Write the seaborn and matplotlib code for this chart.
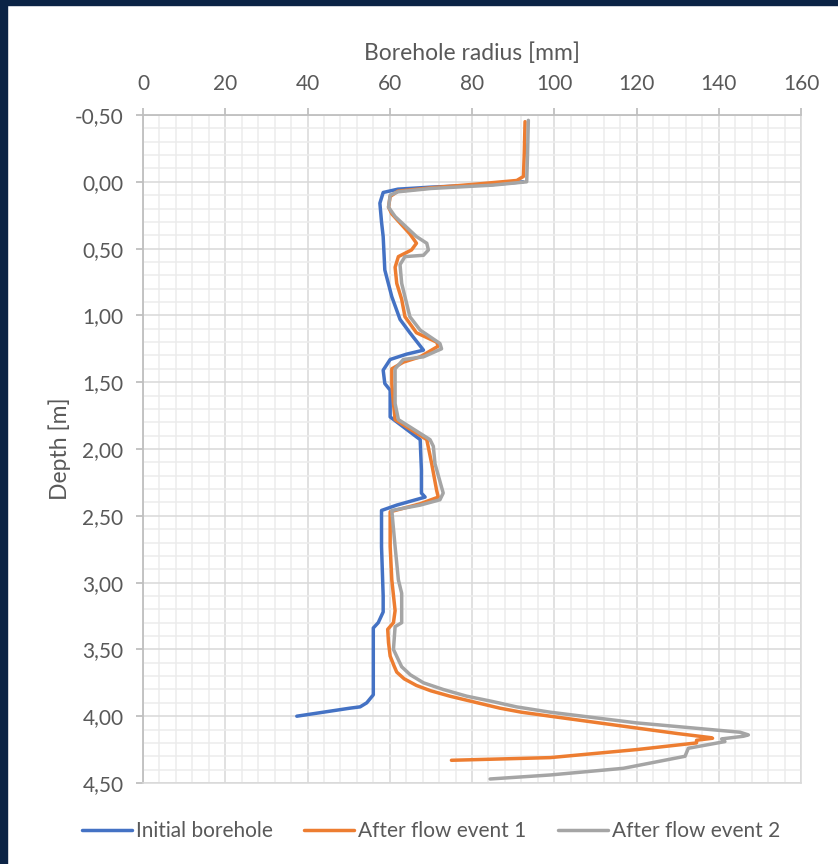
"""Borehole radius profiles before and after flow events."""
import matplotlib.pyplot as plt
import matplotlib.patches as mpatches
from matplotlib.ticker import MultipleLocator, FuncFormatter
import pandas as pd
import seaborn as sns

# radius [mm] and depth [m]
initial_r = [92.4, 85.0, 70.0, 62.0, 58.4, 57.6, 58.0, 58.4, 58.8, 60.5, 62.5, 64.9, 68.2, 64.1,
             60.1, 58.4, 58.8, 60.1, 60.1, 67.4, 67.7, 67.7, 68.6, 61.7, 58.0, 58.0, 58.4, 58.4,
             57.2, 56.0, 56.0, 54.4, 52.8, 50.3, 37.4]
initial_d = [0.00, 0.02, 0.04, 0.055, 0.08, 0.16, 0.30, 0.41, 0.66, 0.86, 1.03, 1.13, 1.26, 1.29,
             1.33, 1.41, 1.51, 1.56, 1.76, 1.93, 2.16, 2.33, 2.36, 2.42, 2.46, 2.73, 3.10, 3.22,
             3.30, 3.34, 3.84, 3.90, 3.93, 3.94, 4.00]

event1_r = [92.9, 92.7, 92.5, 90.9, 80.0, 70.0, 62.0, 60.1, 59.7, 60.5, 64.9, 66.5, 65.3, 62.1,
            61.3, 61.7, 62.9, 63.7, 66.5, 71.4, 71.8, 67.4, 63.3, 60.5, 60.5, 60.9, 61.3, 69.0,
            70.2, 71.4, 71.8, 67.4, 60.1, 60.1, 60.5, 61.3, 60.9, 59.5, 59.7, 60.1, 61.0, 61.7,
            63.5, 66.5, 70.0, 74.6, 80.0, 86.8, 92.0, 99.0, 118.0, 130.0, 137.9, 138.5, 134.6,
            134.6, 120.0, 99.0, 75.0]
event1_d = [-0.45, -0.20, -0.04, -0.01, 0.02, 0.045, 0.07, 0.11, 0.19, 0.24, 0.39, 0.46, 0.51, 0.56,
            0.64, 0.76, 0.88, 1.01, 1.13, 1.20, 1.23, 1.31, 1.35, 1.40, 1.51, 1.66, 1.78, 1.93,
            2.11, 2.31, 2.36, 2.41, 2.47, 2.73, 2.98, 3.21, 3.30, 3.35, 3.45, 3.55, 3.62, 3.67,
            3.72, 3.77, 3.81, 3.85, 3.89, 3.94, 3.97, 4.00, 4.08, 4.13, 4.16, 4.165, 4.18,
            4.20, 4.25, 4.31, 4.33]

event2_r = [93.7, 93.5, 93.3, 85.0, 70.0, 62.0, 60.1, 59.7, 61.3, 66.5, 69.0, 69.4, 68.2, 63.7,
            62.5, 62.9, 64.1, 64.9, 67.4, 72.2, 72.6, 68.2, 63.3, 61.3, 61.3, 62.1, 69.8, 70.6,
            71.0, 73.0, 72.2, 67.4, 60.5, 61.3, 62.1, 62.9, 62.9, 61.3, 60.9, 62.9, 65.0, 68.2,
            73.0, 78.7, 85.0, 90.8, 99.0, 120.0, 145.2, 147.2, 146.0, 140.7, 141.5, 132.6, 131.8,
            116.8, 99.0, 84.4]
event2_d = [-0.46, -0.20, 0.00, 0.025, 0.05, 0.075, 0.10, 0.19, 0.26, 0.41, 0.46, 0.51, 0.55, 0.56,
            0.62, 0.76, 0.91, 1.01, 1.11, 1.21, 1.25, 1.31, 1.33, 1.40, 1.66, 1.78, 1.93, 1.98,
            2.11, 2.33, 2.38, 2.42, 2.46, 2.73, 2.98, 3.08, 3.30, 3.33, 3.50, 3.63, 3.69, 3.75,
            3.80, 3.85, 3.89, 3.93, 3.97, 4.05, 4.12, 4.14, 4.15, 4.17, 4.19, 4.24, 4.30,
            4.39, 4.44, 4.47]

series = ['Initial borehole', 'After flow event 1', 'After flow event 2']
colors = ['#4472C4', '#ED7D31', '#A5A5A5']

df = pd.concat([
    pd.DataFrame({'radius': initial_r, 'depth': initial_d, 'series': series[0]}),
    pd.DataFrame({'radius': event1_r, 'depth': event1_d, 'series': series[1]}),
    pd.DataFrame({'radius': event2_r, 'depth': event2_d, 'series': series[2]}),
])

sns.set_style('white')
plt.rcParams['font.family'] = ['Lato', 'DejaVu Sans']
text_col = '#595959'

fig = plt.figure(figsize=(8.38, 8.64), dpi=100)
ax = fig.add_axes([143 / 838, 1 - 783 / 864, 658 / 838, 668 / 864])

# navy frame on top and left edge
fig.patches.append(mpatches.Rectangle((0, 1 - 5 / 864), 1, 5 / 864, transform=fig.transFigure,
                                      color='#0b2345', zorder=0))
fig.patches.append(mpatches.Rectangle((0, 0), 7 / 838, 1, transform=fig.transFigure,
                                      color='#0b2345', zorder=0))

sns.lineplot(data=df, x='radius', y='depth', hue='series', palette=colors, sort=False,
             estimator=None, linewidth=2.5, ax=ax, legend=True)

ax.set_xlim(0, 160)
ax.set_ylim(4.5, -0.5)
ax.xaxis.tick_top()
ax.xaxis.set_label_position('top')
ax.xaxis.set_major_locator(MultipleLocator(20))
ax.xaxis.set_minor_locator(MultipleLocator(4))
ax.yaxis.set_major_locator(MultipleLocator(0.5))
ax.yaxis.set_minor_locator(MultipleLocator(0.1))
ax.yaxis.set_major_formatter(FuncFormatter(lambda v, p: f'{v:.2f}'.replace('.', ',')))

ax.grid(which='major', color='#d9d9d9', linewidth=1.1)
ax.grid(which='minor', color='#ececec', linewidth=1.1)
ax.set_axisbelow(True)

for side in ['top', 'left']:
    ax.spines[side].set_color('#bfbfbf')
    ax.spines[side].set_linewidth(1.3)
for side in ['right', 'bottom']:
    ax.spines[side].set_color('#d9d9d9')
    ax.spines[side].set_linewidth(1.1)

ax.tick_params(axis='x', which='major', top=True, bottom=False, direction='out', length=5,
               width=1.3, color='#bfbfbf', pad=10, labelsize=15, labelcolor=text_col)
ax.tick_params(axis='y', which='major', left=True, direction='out', length=5, width=1.3,
               color='#bfbfbf', pad=9, labelsize=15, labelcolor=text_col)
ax.tick_params(which='minor', length=0)

ax.set_xlabel('Borehole radius [mm]', fontsize=16.5, color=text_col, labelpad=10)
ax.set_ylabel('Depth [m]', fontsize=16.5, color=text_col, labelpad=3)

handles, labels = ax.get_legend_handles_labels()
ax.get_legend().remove()
fig.legend(handles, labels, loc='center', bbox_to_anchor=(431 / 838, 1 - 831 / 864), ncol=3,
           frameon=False, fontsize=15, labelcolor=text_col, handlelength=2.4,
           handletextpad=0.2, columnspacing=1.5)

plt.savefig('out.png', dpi=100, facecolor='white')
